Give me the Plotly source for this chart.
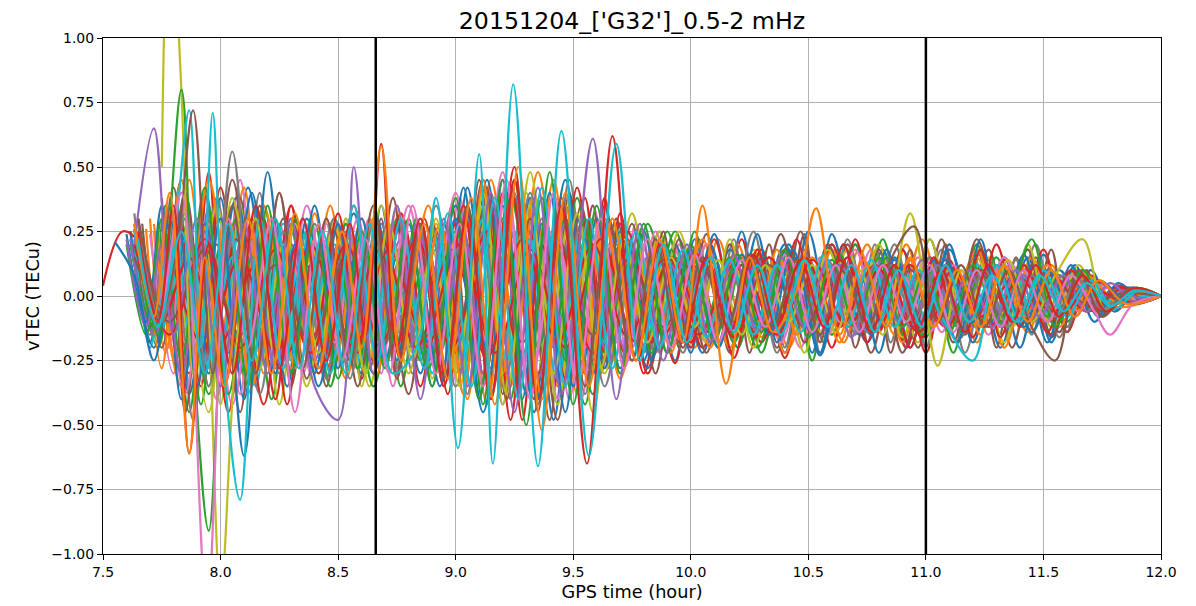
import plotly.graph_objects as go

N = None
START_HOUR = 7.5  # all sample times below are minutes after 07:30 GPS

# ---- shared turning-point time grids (minutes after 07:30) ----
G1 = [7,12,16,22,27,31,37,43,48,53,59,66,71,76,82,88,93,99,105,110,116,123,128,133,139,146,151,157,163,168,
      175,181,186,193,199,205,211,217,223,229,236,242,248,254,261,270]
G2 = [8,13,18,23,29,35,40,45,51,57,62,68,74,79,85,91,96,102,108,114,119,125,131,136,142,148,154,160,166,172,
      178,184,190,196,202,208,214,220,226,232,238,244,250,256,262,270]
G3 = [9,14,20,25,30,36,41,47,52,58,64,70,75,81,87,92,98,104,109,115,121,127,132,138,144,150,156,162,168,174,
      180,186,192,198,204,210,216,222,228,234,240,246,252,258,264,270]
G4 = [8,12,17,21,26,30,35,39,44,48,53,57,62,66,71,75,80,84,89,93,98,102,107,111,116,120,125,129,134,138,
      143,147,152,156,161,165,170,174,179,183,188,192,197,201,206,210,215,219,224,228,233,237,242,246,251,255,260,264,270]
G5 = [7,13,20,27,34,41,48,55,62,69,76,83,90,97,104,111,118,125,132,139,146,153,160,167,174,181,188,195,202,209,
      216,223,230,237,244,251,258,270]
G6 = [10,15,21,27,33,40,46,52,59,65,71,78,84,90,97,103,109,116,122,128,135,141,147,154,160,166,173,179,185,192,
      198,204,211,217,223,230,236,242,249,255,262,270]
G7 = [8,17,26,35,44,53,62,71,80,89,98,107,116,125,134,143,152,161,170,179,188,197,206,215,224,233,242,251,260,270]
G8 = [6,11,15,20,26,32,38,44,49,54,60,65,70,75,80,86,92,97,102,107,112,118,123,128,134,140,145,150,155,161,
      167,172,177,183,189,195,200,206,212,218,224,229,235,241,247,253,259,265,270]

# ---- vTEC at turning points, in 0.01 TECu ----
G1a = [25,-18,30,-38,12,-35,42,-10,28,-22,15,-30,35,-8,20,-32,42,-20,38,-45,25,-30,35,-15,22,-25,22,-18,25,-12,20,-22,24,-15,18,-20,22,-10,18,-20,15,-18,12,-8,3,0]
G1b = [N,30,-22,45,-20,30,-38,25,-32,10,-25,30,-15,32,-28,18,-40,45,-10,40,-35,20,-28,25,-12,18,-20,22,-10,15,-20,8,-15,18,-12,20,-8,12,-18,10,-14,12,-6,5,-2,0]
G1c = [20,-8,35,-45,28,-12,30,-40,18,-28,30,-10,25,-35,15,-20,35,-30,45,-25,30,-42,15,-25,28,-10,25,-20,12,-22,18,-25,20,-12,22,-18,15,-22,20,-12,18,-15,10,-6,2,0]
G1d = [N,N,25,-30,48,-35,15,-28,35,-20,25,-32,12,-25,30,-38,28,-15,50,-40,20,-30,38,-22,15,-26,18,-12,22,-18,10,-14,20,-12,8,-20,15,-10,18,-12,8,-15,8,-4,2,0]
G1e = [22,-12,18,-25,35,-20,10,-22,25,-8,18,-20,28,-15,22,-10,20,-28,25,-12,30,-18,12,-20,15,-14,8,-12,15,-10,12,-8,10,-14,15,-6,12,-10,8,-12,10,-6,5,-3,1,0]

G2a = [28,-10,42,-30,20,-45,35,-18,30,-35,12,-28,38,-20,25,-30,45,-35,20,-48,40,-25,30,-12,25,-20,24,-22,15,-20,25,-18,20,-22,12,-20,22,-15,18,-20,15,-14,10,-6,2,0]
G2b = [N,25,-30,20,-40,45,-15,28,-30,22,-10,30,-35,15,-25,38,-20,48,-30,25,-40,35,-18,28,-22,12,-18,20,-15,8,-20,14,-10,18,-12,15,-14,8,-15,12,-10,8,-5,3,-1,0]
G2c = [32,-15,25,-48,38,-22,40,-30,15,-32,28,-18,22,-30,35,-12,30,-42,35,-20,45,-30,20,-25,15,-22,20,-10,25,-22,15,-18,22,-15,20,-12,18,-22,14,-10,20,-16,8,-6,2,0]
G2d = [N,N,30,-22,35,-30,25,-42,20,-15,30,-35,10,-22,28,-30,18,-35,40,-15,30,-45,28,-18,25,-15,12,-20,18,-12,15,-8,18,-15,10,-18,12,-10,15,-12,10,-6,4,-3,1,0]
G2e = [20,-16,28,-20,15,-30,22,-12,25,-20,15,-24,20,-8,18,-25,30,-18,28,-32,15,-22,25,-15,12,-18,14,-8,12,-14,10,-12,15,-8,10,-12,8,-14,10,-6,8,-8,4,-2,1,0]

G3a = [30,-15,45,-28,38,-40,20,-35,30,-12,32,-25,15,-30,28,-38,45,-25,38,-48,30,-20,28,-25,18,-15,24,-20,15,-22,25,-12,20,-22,18,-12,20,-18,12,-20,16,-12,10,-6,2,0]
G3b = [N,25,-35,30,-15,42,-30,25,-20,35,-28,18,-32,25,-15,35,-42,30,-20,45,-38,25,-30,12,-22,18,-10,20,-16,14,-12,18,-10,15,-18,8,-12,15,-8,12,-10,8,-5,3,-1,0]
G3c = [22,-20,28,-42,20,-30,35,-18,25,-35,15,-22,30,-25,20,-28,22,-40,30,-15,38,-28,18,-20,25,-12,15,-20,18,-8,12,-15,20,-12,10,-16,12,-8,15,-12,8,-10,5,-3,1,0]
G3d = [N,N,35,-35,42,-15,30,-42,12,-28,35,-20,28,-35,18,-22,40,-48,25,-35,42,-22,32,-30,15,-18,22,-14,18,-24,15,-20,22,-14,18,-22,14,-16,20,-12,18,-14,8,-5,1,0]
G3e = [18,-10,25,-22,30,-18,12,-25,20,-15,22,-10,18,-22,25,-14,20,-25,30,-20,22,-30,15,-12,18,-16,10,-14,12,-8,14,-10,8,-12,12,-8,10,-12,8,-10,6,-6,3,-2,1,0]

G4a = [26,-12,30,-45,20,-28,38,-15,30,-35,12,-25,28,-20,30,-32,18,-25,35,-15,42,-38,25,-45,30,-20,35,-28,22,-15,25,-20,
       22,-18,15,-22,20,-12,24,-18,16,-20,12,-22,18,-14,20,-16,12,-20,15,-10,18,-14,10,-8,4,-2,0]
G4b = [N,24,-20,40,-30,15,-38,25,-22,10,-30,28,-15,22,-30,25,-10,28,-35,30,-20,45,-30,18,-40,28,-15,20,-25,18,-12,20,-15,10,-18,12,-8,16,-12,15,-10,12,-14,8,-10,14,-6,10,-12,8,-8,6,-5,4,-3,1,0,0,0]
G4c = [20,-15,35,-25,40,-35,18,-30,25,-15,28,-32,20,-12,25,-28,30,-15,22,-38,28,-25,38,-20,30,-35,20,-12,18,-22,15,-10,
       20,-16,22,-12,15,-20,18,-22,12,-15,20,-18,14,-20,12,-16,18,-10,14,-15,10,-12,8,-6,3,-1,0]
G4d = [N,N,30,-18,25,-42,35,-22,15,-30,22,-18,30,-35,15,-20,28,-32,20,-28,35,-42,20,-30,25,-18,30,-22,15,-20,12,-15,14,-10,16,-12,12,-8,14,-14,10,-8,12,-12,8,-10,10,-8,6,-10,6,-5,4,-3,2,-1,0,0,0]
G4e = [22,-20,25,-30,15,-22,28,-35,20,-25,30,-12,22,-28,18,-25,20,-30,25,-20,30,-25,35,-32,15,-28,20,-18,25,-12,14,-15,12,-12,10,-14,8,-12,12,-10,8,-12,10,-6,8,-10,6,-8,8,-5,6,-6,4,-3,2,-1,1,0,0]

G5a = [25,-20,40,-30,38,-25,30,-35,20,-30,28,-18,35,-45,25,-38,45,-30,25,-28,20,-22,18,-12,20,-15,12,-18,15,-10,18,-12,15,-14,10,-6,3,0]
G5b = [N,28,-35,45,-20,35,-28,18,-32,30,-22,35,-30,42,-35,48,-25,30,-32,22,-18,22,-20,18,-22,15,-18,20,-15,22,-12,18,-20,15,-12,8,-4,0]
G5c = [20,-12,28,-38,30,-15,25,-22,28,-35,15,-28,25,-30,38,-20,30,-38,20,-15,25,-12,15,-20,10,-14,16,-10,12,-15,8,-12,10,-10,8,-5,2,0]
G5d = [N,N,30,-28,22,-42,35,-30,15,-25,32,-20,28,-35,42,-30,35,-25,28,-30,15,-20,12,-16,18,-10,14,-12,10,-16,12,-8,14,-10,6,-4,2,0]
G5e = [22,-15,15,-25,28,-18,20,-28,25,-15,22,-25,30,-20,25,-32,28,-20,18,-22,12,-15,10,-12,14,-10,12,-8,10,-12,8,-10,12,-8,6,-4,2,0]

G6a = [28,-20,40,-35,45,-18,30,-32,25,-35,20,-38,28,-22,45,-40,30,-48,35,-25,28,-30,22,-22,20,-15,24,-18,20,-12,18,-22,15,-18,22,-12,18,-16,10,-6,2,0]
G6b = [N,25,-38,28,-42,20,-28,35,-18,30,-25,35,-15,40,-30,42,-35,25,-40,30,-20,25,-18,20,-12,16,-18,10,-15,18,-12,8,-14,12,-10,15,-8,10,-6,4,-1,0]
G6c = [20,-10,32,-25,20,-38,25,-20,30,-15,28,-20,22,-35,25,-30,40,-20,28,-35,15,-22,15,-18,10,-12,15,-10,12,-14,8,-12,15,-8,10,-12,8,-10,6,-4,1,0]
G6d = [N,N,25,-45,38,-28,20,-35,28,-22,35,-30,18,-28,35,-25,48,-42,20,-30,32,-15,25,-18,22,-20,14,-22,18,-12,20,-16,22,-10,15,-18,20,-12,12,-5,1,0]
G6e = [18,-12,22,-28,15,-25,28,-15,20,-28,18,-12,25,-20,30,-25,22,-32,25,-18,20,-15,12,-10,14,-12,8,-10,12,-8,10,-12,8,-10,12,-6,8,-8,4,-2,1,0]

G7a = [20,-15,22,-20,18,-22,20,-18,22,-20,25,-22,20,-22,18,-15,14,-16,15,-12,14,-14,12,-12,10,-10,8,-6,3,0]
G7b = [N,18,-20,15,-22,20,-18,22,-20,18,-24,22,-18,20,-16,14,-15,12,-14,15,-12,12,-10,12,-8,8,-6,4,-2,0]
G7c = [15,-10,18,-15,12,-18,15,-20,18,-15,20,-18,22,-15,14,-12,12,-10,12,-12,10,-10,10,-8,8,-6,5,-3,1,0]

G8a = [24,-10,35,-40,28,-22,40,-30,20,-30,28,-12,30,-25,18,-35,42,-20,35,-40,28,-45,22,-28,20,-25,15,
       -22,20,-12,24,-18,15,-22,20,-10,18,-20,14,-18,22,-12,16,-18,12,-10,5,-2,0]
G8b = [N,26,-28,45,-18,30,-35,22,-28,32,-18,25,-30,35,-12,28,-38,45,-30,25,-40,35,-20,30,-15,18,-22,12,-20,15,-10,18,-15,10,-18,12,-10,14,-12,8,-15,10,-8,12,-6,5,-3,1,0]
G8c = [20,-15,30,-25,42,-38,15,-25,30,-20,15,-28,25,-18,30,-22,25,-42,30,-15,38,-25,30,-20,12,-22,18,-8,15,-18,10,-12,14,-10,12,-8,15,-12,10,-12,8,-10,12,-8,6,-4,2,-1,0]
G8d = [N,N,38,-30,25,-45,30,-40,18,-15,32,-22,28,-30,25,-18,35,-30,40,-48,20,-32,38,-22,25,-18,14,
       -20,15,-24,18,-12,22,-15,20,-18,12,-20,15,-10,18,-16,12,-14,10,-6,4,-1,0]
G8e = [22,-12,20,-30,25,-15,22,-28,12,-25,20,-15,22,-20,28,-15,25,-30,20,-25,30,-18,15,-20,18,-10,12,-15,10,-12,14,-8,10,-10,12,-6,10,-12,8,-8,10,-6,8,-10,5,-3,2,-1,0]

# ---- individually read traces (own time lists) ----
RED0_T = [0,5,9,15,22,30,39,47,55,64,73,82,91,100,109,118,127,136,145,154,163,172,181,190,199,208,217,226,235,244,253,262,270]
RED0_V = [4,25,21,-10,15,-18,12,-22,16,-20,18,-16,20,-22,18,-20,22,-18,15,-14,12,-15,14,-12,12,-14,10,-12,10,-8,6,-3,0]
BLUE0_T = [3,8,13,19,24,30,36,42,48,54,60,66,72,78,84,90,96,102,108,114,120,126,132,138,144,150,157,163,170,176,183,189,196,202,209,215,222,228,235,241,248,254,262,270]
BLUE0_V = [21,8,-25,30,-35,30,-62,48,-30,35,-28,30,-25,28,-35,30,-40,45,-38,40,-35,30,-28,25,-22,18,-20,16,-15,18,-23,12,-15,14,-12,14,-10,12,-12,10,-8,6,-3,0]
OLIVE0_T = [15,17,20,23,26,30,34,39,44,49,55,61,67,73,79,85,91,97,103,109,115,121,127,133,139,145,151,157,163,169,175,181,187,193,199,206,213,219,225,231,237,243,250,256,263,270]
OLIVE0_V = [50,160,80,-30,10,-115,-20,30,-25,28,-22,25,-30,28,-25,30,-35,40,-38,35,-30,32,-28,22,-18,15,-12,14,-15,12,-10,12,-14,10,-15,32,-27,10,-12,14,-10,8,22,-6,3,0]
GREEN0_T = [9,14,20,23,27,32,37,42,48,54,60,66,72,78,84,90,96,102,108,114,120,126,132,138,144,150,156,162,168,174,180,186,192,198,204,210,216,222,229,237,243,250,256,263,270]
GREEN0_V = [28,-15,80,-20,-91,30,-35,35,-30,28,-32,25,-28,30,-35,38,-40,45,-50,48,-42,35,-30,28,-22,20,-18,16,-14,18,-16,14,-12,15,-12,10,-14,12,-10,22,-12,10,-6,3,0]
PURPLE0_T = [8,13,18,24,30,36,42,48,54,60,64,69,75,81,87,93,99,105,111,117,125,131,137,143,149,155,161,167,173,179,185,191,197,203,209,215,221,227,233,239,245,251,257,263,270]
PURPLE0_V = [20,65,-15,30,-35,28,-30,30,-35,-48,50,-30,35,-40,30,-35,40,-45,42,-38,61,-40,28,-25,20,-18,16,-14,15,-12,14,-16,12,-10,14,-12,10,-12,10,-8,8,-6,5,-2,0]
GRAY0_T = [9,15,21,27,33,39,45,51,57,63,69,75,81,87,93,99,105,111,117,123,129,135,141,147,153,159,165,171,177,183,189,195,201,207,213,219,225,231,237,243,249,255,262,270]
GRAY0_V = [28,-10,30,-35,56,-30,40,-28,30,-32,28,-30,25,-35,30,-38,40,-42,35,-38,30,-25,22,-18,15,-14,16,-12,14,-15,12,-14,12,-10,12,-10,10,-12,8,-8,6,-5,2,0]
CYAN0_T = [8,14,18,22,25,28,31,35,40,46,52,58,64,70,76,82,88,94,100,106,112,118,124,130,136,142,148,154,160,166,172,178,184,190,196,202,208,214,222,228,234,240,246,252,258,264,270]
CYAN0_V = [25,-10,20,72,-20,71,-30,-79,30,-28,25,-30,35,-25,30,-28,32,-35,38,-40,42,-35,30,-28,25,-20,18,-16,14,-15,12,-14,16,-12,14,-12,10,-8,-25,12,-10,10,-8,6,-5,2,0]
BROWN0_T = [9,15,19,23,28,33,39,45,51,57,63,69,75,81,87,93,99,105,111,117,123,129,135,141,147,153,159,165,171,177,183,189,195,201,207,213,219,225,231,237,243,249,255,262,270]
BROWN0_V = [30,-5,20,72,-30,35,-30,40,-28,30,-25,35,-30,28,-32,35,-40,45,-42,38,-35,30,-25,22,-18,15,-14,16,-12,14,-15,12,-12,14,27,-10,12,-12,10,-12,-25,10,-8,3,0]
PINK0_T = [9,14,20,26.5,32,37,43,49,55,61,67,73,79,85,91,97,103,109,115,121,127,133,139,145,151,157,163,169,175,181,187,193,199,205,211,217,223,229,235,241,247,253,257,263,270]
PINK0_V = [22,-10,40,-120,30,-20,30,-45,28,-25,22,-30,35,-30,28,-35,45,-40,40,-35,30,-28,22,-20,16,-18,14,-12,15,-14,12,-14,12,-10,12,-14,10,-12,10,-10,8,-6,-15,-3,0]
RED1_T = [9,14,18,22,27,33,39,45,51,57,63,67,71,75,81,87,93,99,105,111,117,123.5,130,136,142,148,154,160,166,172,178,184,190,196,202,208,214,220,226,232,238,244,250,256,263,270]
RED1_V = [25,-10,35,-61,20,-30,35,-28,30,-25,28,-15,59,-20,30,-35,32,-40,45,-40,35,-65,62,-25,20,-18,15,-14,16,-12,14,-12,15,-14,12,-12,10,-14,12,-10,12,-8,8,-6,3,0]
ORANGE0_T = [8,13,17,22,26,31,37,43,49,55,61,66,71,76,82,88,94,100,106,112,118,124,130,136,142,148,153,159,165,171,177,182,188,194,200,206,212,218,224,230,236,242,248,254,261,270]
ORANGE0_V = [28,-8,40,-61,15,-35,30,-30,32,-28,25,-20,58,-25,28,-32,38,-42,50,-52,40,-35,30,-25,22,-18,35,-34,15,-14,2,34,-15,14,-12,15,-12,10,-12,12,-10,10,-8,6,-3,0]
CYAN1_T = [9,14,20,26,32,38,44,50,56,62,68,74,80,85,90.6,96,99.5,104.7,111,117,124,131,137,143,149,155,161,167,173,179,185,191,197,203,209,215,221,227,233,239,245,251,257,263,270]
CYAN1_V = [22,-12,25,-30,28,-25,30,-28,25,-30,28,-30,-20,38,-59,55,-65,82,-66,64,-62,59,-25,20,-18,15,-14,12,-15,14,-12,12,-14,10,-12,12,-10,8,-10,8,-6,5,-4,2,0]

# (times, values) pairs in drawing order, and the tab10 colour slot of each
SERIES = [
    (G1, G1a), (G1, G1b), (G1, G1c), (G1, G1d), (G1, G1e),
    (G2, G2a), (G2, G2b), (G2, G2c), (G2, G2d), (G2, G2e),
    (G3, G3a), (G3, G3b), (G3, G3c), (G3, G3d), (G3, G3e),
    (G4, G4a), (G4, G4b), (G4, G4c), (G4, G4d), (G4, G4e),
    (G5, G5a), (G5, G5b), (G5, G5c), (G5, G5d), (G5, G5e),
    (G6, G6a), (G6, G6b), (G6, G6c), (G6, G6d), (G6, G6e),
    (G8, G8a), (G8, G8b), (G8, G8c), (G8, G8d), (G8, G8e),
    (G7, G7a), (G7, G7b), (G7, G7c),
    (RED0_T, RED0_V), (BLUE0_T, BLUE0_V), (OLIVE0_T, OLIVE0_V), (GREEN0_T, GREEN0_V),
    (PURPLE0_T, PURPLE0_V), (GRAY0_T, GRAY0_V), (CYAN0_T, CYAN0_V), (BROWN0_T, BROWN0_V),
    (PINK0_T, PINK0_V), (RED1_T, RED1_V), (ORANGE0_T, ORANGE0_V), (CYAN1_T, CYAN1_V),
]
COLOR_SLOT = [0,1,2,3,4, 5,6,7,8,9, 0,1,2,3,4, 5,6,7,8,9, 0,1,2,3,4, 5,6,7,8,9, 0,1,2,3,4,
              3,3,5, 3,0,8,2, 4,7,9,5, 6,3,1,9]

EVENT_HOURS = [8.66, 11.0]
X_TICKS = [7.5, 8.0, 8.5, 9.0, 9.5, 10.0, 10.5, 11.0, 11.5, 12.0]
Y_TICKS = [-1.0, -0.75, -0.5, -0.25, 0.0, 0.25, 0.5, 0.75, 1.0]
TITLE = "20151204_['G32']_0.5-2 mHz"

TAB10 = ["#1f77b4", "#ff7f0e", "#2ca02c", "#d62728", "#9467bd",
         "#8c564b", "#e377c2", "#7f7f7f", "#bcbd22", "#17becf"]

fig = go.Figure()
for (mins, vals), slot in zip(SERIES, COLOR_SLOT):
    vals = (list(vals) + [None] * len(mins))[:len(mins)]
    x = [START_HOUR + m / 60.0 for m in mins]
    y = [None if v is None else v / 100.0 for v in vals]
    fig.add_trace(go.Scatter(
        x=x, y=y, mode="lines",
        line=dict(color=TAB10[slot], width=2.2, shape="spline", smoothing=1.0),
        showlegend=False, hoverinfo="skip"))

for t in EVENT_HOURS:
    fig.add_shape(type="line", xref="x", yref="paper", x0=t, x1=t, y0=0, y1=1,
                  line=dict(color="black", width=2.5), layer="above")


def fmt_y(v):
    s = f"{abs(v):.2f}"
    return ("\u2212" + s) if v < 0 else s


FONT = "DejaVu Sans"
fig.update_layout(
    width=1196, height=606,
    margin=dict(l=103, r=35, t=38, b=52),
    paper_bgcolor="white", plot_bgcolor="white",
    font=dict(family=FONT, color="black", size=14),
    title=dict(text=TITLE, x=0.5, xref="paper", xanchor="center",
               y=1 - 21 / 606, yref="container", yanchor="middle",
               font=dict(family=FONT, size=23.7, color="black")),
)
fig.update_xaxes(
    range=[7.5, 12.0], tickvals=X_TICKS, ticktext=[f"{v:.1f}" for v in X_TICKS],
    showgrid=True, gridcolor="#b0b0b0", gridwidth=1, zeroline=False,
    showline=True, linecolor="black", linewidth=1, mirror=True,
    ticks="outside", ticklen=5, tickcolor="black", tickfont=dict(size=14),
    title=dict(text="GPS time (hour)", font=dict(size=17.7), standoff=6),
    automargin=False)
fig.update_yaxes(
    range=[-1.0, 1.0], tickvals=Y_TICKS, ticktext=[fmt_y(v) for v in Y_TICKS],
    showgrid=True, gridcolor="#b0b0b0", gridwidth=1, zeroline=False,
    showline=True, linecolor="black", linewidth=1, mirror=True,
    ticks="outside", ticklen=5, tickcolor="black", tickfont=dict(size=14),
    title=dict(text="vTEC (TECu)", font=dict(size=17.7), standoff=7),
    automargin=False)

fig.write_html("out.html")
